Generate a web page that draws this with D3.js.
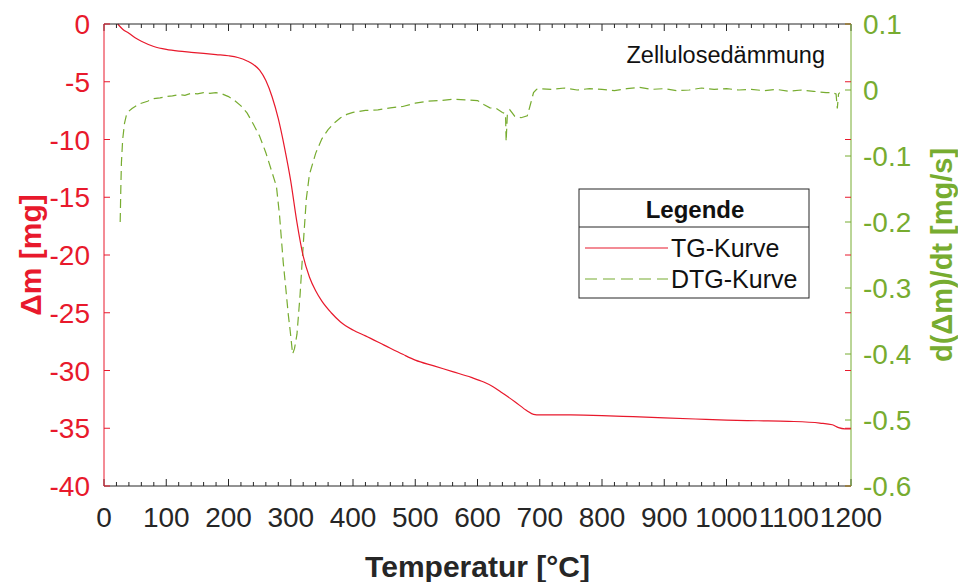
<!DOCTYPE html>
<html>
<head>
<meta charset="utf-8">
<script src="https://cdn.jsdelivr.net/npm/d3@7"></script>
<style>
  body { margin: 0; background: #fff; }
  svg { font-family: "Liberation Sans", Arial, sans-serif; }
</style>
</head>
<body>
<div id="root"></div>
<script>
// TG curve: temperature [°C] and mass change [mg]
const tgTemp = [22, 30, 40, 50, 60, 80, 100, 120, 140, 160, 180, 200, 215, 230, 240, 250, 260, 270, 280, 290,
  300, 310, 320, 330, 340, 350, 365, 380, 400, 420, 450, 480, 500, 530, 560, 590, 610, 625, 640, 660,
  680, 690, 700, 750, 800, 850, 900, 950, 1000, 1050, 1100, 1150, 1170, 1180, 1190, 1200]
const tgMass = [0, -0.45, -0.8, -1.2, -1.5, -1.95, -2.2, -2.35, -2.45, -2.55, -2.65, -2.75, -2.9, -3.2, -3.5, -4.0, -4.9, -6.3, -8.2, -10.7,
  -13.6, -17.2, -20.1, -21.9, -23.1, -24.0, -25.0, -25.8, -26.5, -27.0, -27.8, -28.6, -29.1, -29.6, -30.1, -30.6, -31.0, -31.4, -31.95, -32.7,
  -33.5, -33.8, -33.85, -33.85, -33.9, -34.0, -34.1, -34.2, -34.3, -34.35, -34.4, -34.55, -34.7, -34.95, -35.05, -35.05]

// DTG curve: temperature [°C] and d(Δm)/dt [mg/s]
const dtgTemp = [26, 27, 28, 30, 33, 36, 40, 45, 50, 55, 60, 70, 80, 90, 100, 110, 120, 130, 140, 150,
  160, 170, 180, 190, 200, 210, 220, 230, 240, 250, 260, 270, 277, 282, 288, 292, 296, 299, 303, 306,
  310, 315, 320, 325, 330, 340, 350, 360, 370, 380, 390, 400, 420, 440, 460, 480, 500, 520, 540, 560,
  580, 600, 610, 620, 630, 640, 645, 646, 648, 652, 660, 670, 680, 685, 690, 695, 700, 720, 740, 760,
  780, 800, 820, 840, 860, 880, 900, 920, 940, 960, 980, 1000, 1020, 1040, 1060, 1080, 1100, 1120, 1140, 1160,
  1170, 1176, 1178, 1180, 1182]
const dtgRate = [-0.2, -0.15, -0.11, -0.075, -0.05, -0.038, -0.032, -0.028, -0.025, -0.022, -0.02, -0.017, -0.013, -0.012, -0.01, -0.009, -0.007, -0.008, -0.005, -0.006,
  -0.004, -0.005, -0.004, -0.006, -0.01, -0.016, -0.024, -0.035, -0.052, -0.07, -0.095, -0.125, -0.146, -0.19, -0.262, -0.3, -0.34, -0.364, -0.4, -0.392,
  -0.37, -0.31, -0.235, -0.165, -0.128, -0.096, -0.074, -0.06, -0.05, -0.042, -0.037, -0.034, -0.031, -0.03, -0.027, -0.025, -0.02, -0.017, -0.016, -0.014,
  -0.015, -0.016, -0.022, -0.027, -0.028, -0.034, -0.036, -0.078, -0.036, -0.03, -0.04, -0.042, -0.039, -0.022, -0.004, 0.001, 0.002, 0.001, 0.003, 0,
  0.002, 0.001, -0.001, 0.002, 0.004, 0.001, 0.002, -0.001, 0, 0.003, 0.001, 0.002, 0, 0.001, -0.001, 0.001, -0.002, 0, -0.002, -0.004,
  -0.004, -0.006, -0.028, -0.006, -0.004]

const xTicks = [0, 100, 200, 300, 400, 500, 600, 700, 800, 900, 1000, 1100, 1200]
const leftTicks = [0, -5, -10, -15, -20, -25, -30, -35, -40]
const rightTicks = [0.1, 0, -0.1, -0.2, -0.3, -0.4, -0.5, -0.6]
const legendLabels = ['TG-Kurve', 'DTG-Kurve']

const RED = '#e8192c'
const GREEN = '#77ac30'
const INK = '#262626'

const W = 958, H = 582
const m = { left: 104, top: 24, right: 107, bottom: 96 }
const pw = W - m.left - m.right
const ph = H - m.top - m.bottom

const svg = d3.select('#root').append('svg')
  .attr('width', W)
  .attr('height', H)

const x = d3.scaleLinear().domain([0, 1200]).range([0, pw])
const yL = d3.scaleLinear().domain([-40, 0]).range([ph, 0])
const yR = d3.scaleLinear().domain([-0.6, 0.1]).range([ph, 0])

const g = svg.append('g')
  .attr('transform', `translate(${m.left}, ${m.top})`)

// curves
const tgData = tgTemp.map((t, i) => ({ t, v: tgMass[i] }))
const dtgData = dtgTemp.map((t, i) => ({ t, v: dtgRate[i] }))

const tgLine = d3.line().x(d => x(d.t)).y(d => yL(d.v)).curve(d3.curveMonotoneX)
const dtgLine = d3.line().x(d => x(d.t)).y(d => yR(d.v))

g.append('path')
  .datum(dtgData)
  .attr('d', dtgLine)
  .attr('fill', 'none')
  .attr('stroke', GREEN)
  .attr('stroke-width', 1.2)
  .attr('stroke-dasharray', '9,5')

g.append('path')
  .datum(tgData)
  .attr('d', tgLine)
  .attr('fill', 'none')
  .attr('stroke', RED)
  .attr('stroke-width', 1.2)

// bottom / top axes with minor ticks every 20
const minor = d3.range(0, 1201, 20).filter(v => v % 100 !== 0)

function frameX(sel, dir) {
  sel.append('line').attr('x1', 0).attr('x2', pw).attr('stroke', INK)
  sel.selectAll('.maj').data(xTicks).enter().append('line')
    .attr('x1', d => x(d)).attr('x2', d => x(d))
    .attr('y1', 0).attr('y2', 7 * dir)
    .attr('stroke', INK)
  sel.selectAll('.min').data(minor).enter().append('line')
    .attr('x1', d => x(d)).attr('x2', d => x(d))
    .attr('y1', 0).attr('y2', 4 * dir)
    .attr('stroke', INK)
}

const bottom = g.append('g').attr('transform', `translate(0, ${ph})`)
frameX(bottom, -1)
frameX(g.append('g'), 1)

bottom.selectAll('text').data(xTicks).enter().append('text')
  .attr('x', d => x(d))
  .attr('y', 41)
  .attr('text-anchor', 'middle')
  .attr('font-size', 28)
  .attr('fill', INK)
  .text(d => d)

// left axis
const left = g.append('g')
left.append('line').attr('y1', 0).attr('y2', ph).attr('stroke', RED)
left.selectAll('line.t').data(leftTicks).enter().append('line')
  .attr('x1', 0).attr('x2', 6)
  .attr('y1', d => yL(d)).attr('y2', d => yL(d))
  .attr('stroke', RED)
left.selectAll('text').data(leftTicks).enter().append('text')
  .attr('x', -14)
  .attr('y', d => yL(d))
  .attr('dy', '0.36em')
  .attr('text-anchor', 'end')
  .attr('font-size', 28)
  .attr('fill', RED)
  .text(d => d)

// right axis, carries the left ticks too
const right = g.append('g').attr('transform', `translate(${pw}, 0)`)
right.append('line').attr('y1', 0).attr('y2', ph).attr('stroke', GREEN)
right.selectAll('line.l').data(leftTicks).enter().append('line')
  .attr('x1', 0).attr('x2', -6)
  .attr('y1', d => yL(d)).attr('y2', d => yL(d))
  .attr('stroke', RED)
right.selectAll('line.r').data(rightTicks).enter().append('line')
  .attr('x1', 0).attr('x2', -6)
  .attr('y1', d => yR(d)).attr('y2', d => yR(d))
  .attr('stroke', GREEN)
right.selectAll('text').data(rightTicks).enter().append('text')
  .attr('x', 12)
  .attr('y', d => yR(d))
  .attr('dy', '0.36em')
  .attr('font-size', 28)
  .attr('fill', GREEN)
  .text(d => d === 0 ? '0' : d3.format('.1f')(d).replace('−', '-'))

// axis titles
svg.append('text')
  .attr('transform', `translate(${m.left + pw / 2}, 577)`)
  .attr('text-anchor', 'middle')
  .attr('font-size', 30)
  .attr('font-weight', 'bold')
  .attr('fill', INK)
  .text('Temperatur [°C]')

svg.append('text')
  .attr('transform', `translate(41, ${m.top + ph / 2}) rotate(-90)`)
  .attr('text-anchor', 'middle')
  .attr('font-size', 30)
  .attr('font-weight', 'bold')
  .attr('fill', RED)
  .text('Δm [mg]')

svg.append('text')
  .attr('transform', `translate(952, ${m.top + ph / 2}) rotate(-90)`)
  .attr('text-anchor', 'middle')
  .attr('font-size', 29)
  .attr('font-weight', 'bold')
  .attr('fill', GREEN)
  .text('d(Δm)/dt [mg/s]')

// sample name
svg.append('text')
  .attr('x', 825)
  .attr('y', 63)
  .attr('text-anchor', 'end')
  .attr('font-size', 23.5)
  .attr('fill', '#111')
  .text('Zellulosedämmung')

// legend
const lg = svg.append('g').attr('transform', 'translate(579, 189)')
lg.append('rect')
  .attr('width', 230).attr('height', 109)
  .attr('fill', '#fff').attr('stroke', INK)
lg.append('line')
  .attr('x1', 0).attr('x2', 230).attr('y1', 38).attr('y2', 38)
  .attr('stroke', INK)
lg.append('text')
  .attr('x', 116).attr('y', 29)
  .attr('text-anchor', 'middle')
  .attr('font-size', 24)
  .attr('font-weight', 'bold')
  .attr('fill', '#111')
  .text('Legende')

const rows = lg.selectAll('.row').data(legendLabels).enter().append('g')
  .attr('transform', (d, i) => `translate(0, ${59 + i * 31})`)
rows.append('line')
  .attr('x1', 6).attr('x2', 89)
  .attr('stroke', (d, i) => i ? GREEN : RED)
  .attr('stroke-width', 1.2)
  .attr('stroke-dasharray', (d, i) => i ? '12,6' : null)
rows.append('text')
  .attr('x', 92).attr('dy', '0.36em')
  .attr('font-size', 25)
  .attr('fill', '#111')
  .text(d => d)
</script>
</body>
</html>
